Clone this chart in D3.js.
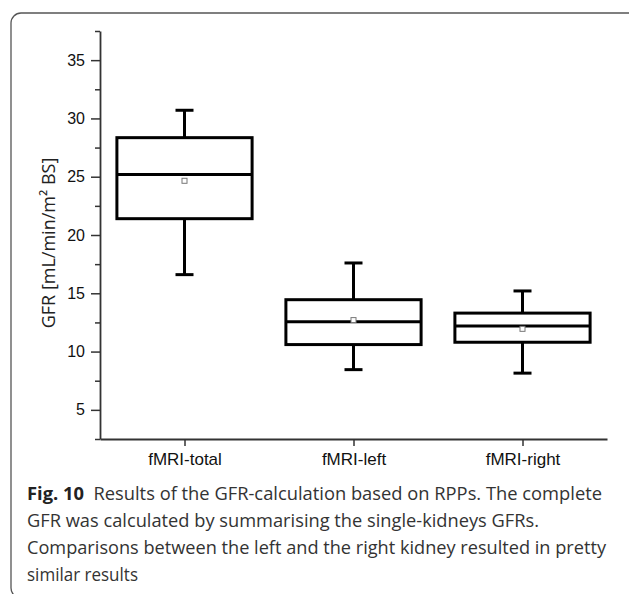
<!DOCTYPE html>
<html>
<head>
<meta charset="utf-8">
<script src="https://cdn.jsdelivr.net/npm/d3@7"></script>
<style>
  body { margin: 0; background: #fff; }
  svg { display: block; }
</style>
</head>
<body>
<div id="chart"></div>
<script>
// box plot values
var categories = ["fMRI-total", "fMRI-left", "fMRI-right"];
var q1 = [21.4, 10.6, 10.8];
var median = [25.2, 12.55, 12.2];
var q3 = [28.35, 14.45, 13.3];
var whiskerLow = [16.6, 8.45, 8.15];
var whiskerHigh = [30.7, 17.6, 15.2];
var means = [24.65, 12.7, 11.95];

var majorTicks = [5, 10, 15, 20, 25, 30, 35];
var minorTicks = [2.5, 7.5, 12.5, 17.5, 22.5, 27.5, 32.5, 37.5];

var captionLines = [
  ["Fig. 10", "Results of the GFR-calculation based on RPPs. The complete"],
  ["", "GFR was calculated by summarising the single-kidneys GFRs."],
  ["", "Comparisons between the left and the right kidney resulted in pretty"],
  ["", "similar results"]
];
var captionWidths = [575, 512, 579, 111];

var svgWidth = 629, svgHeight = 594;
var margin = {top: 31, right: 22, bottom: 155, left: 100};
var chartWidth = svgWidth - margin.left - margin.right;
var chartHeight = svgHeight - margin.top - margin.bottom;

var svg = d3.select("#chart").append("svg")
    .attr("width", svgWidth)
    .attr("height", svgHeight);

// rounded frame round the figure
svg.append("rect")
    .attr("x", 11).attr("y", 13)
    .attr("width", 630).attr("height", 585)
    .attr("rx", 10).attr("ry", 10)
    .attr("fill", "none")
    .attr("stroke", "#555")
    .attr("stroke-width", 1.3);

var chartGroup = svg.append("g")
    .attr("transform", `translate(${margin.left}, ${margin.top})`);

var xScale = d3.scalePoint()
    .domain(categories)
    .range([0, chartWidth])
    .padding(0.5);

var yScale = d3.scaleLinear()
    .domain([2.5, 37.5])
    .range([chartHeight, 0]);

var boxWidth = xScale.step() * 0.8;
var capWidth = 18;

// minor ticks on y
chartGroup.append("g")
    .call(d3.axisLeft(yScale).tickValues(minorTicks).tickSize(5).tickFormat(""))
    .call(g => g.select(".domain").remove())
    .selectAll("line").attr("stroke", "#333").attr("stroke-width", 1.5);

// y axis
var yAxisG = chartGroup.append("g")
    .call(d3.axisLeft(yScale).tickValues(majorTicks).tickSize(9).tickSizeOuter(0).tickPadding(6));
yAxisG.select(".domain").attr("stroke", "#333").attr("stroke-width", 1.8);
yAxisG.selectAll("line").attr("stroke", "#333").attr("stroke-width", 1.5);
yAxisG.selectAll("text")
    .attr("font-family", "Liberation Sans, Arial, sans-serif")
    .attr("font-size", 16)
    .attr("fill", "#111");

// x axis
var xAxisG = chartGroup.append("g")
    .attr("transform", `translate(0, ${chartHeight})`)
    .call(d3.axisBottom(xScale).tickSize(7).tickSizeOuter(0).tickPadding(7));
xAxisG.select(".domain").attr("stroke", "#333").attr("stroke-width", 1.8);
xAxisG.selectAll("line").attr("stroke", "#333").attr("stroke-width", 1.5);
xAxisG.selectAll("text")
    .attr("font-family", "Liberation Sans, Arial, sans-serif")
    .attr("font-size", 17)
    .attr("fill", "#111");

// y title
svg.append("text")
    .attr("transform", "translate(55, 243) rotate(-90)")
    .attr("text-anchor", "middle")
    .attr("font-family", "Open Sans, sans-serif")
    .attr("font-size", 18)
    .attr("fill", "#222")
    .text("GFR [mL/min/m² BS]");

// boxes
var boxes = chartGroup.selectAll(".box")
    .data(categories)
    .enter()
    .append("g")
    .attr("class", "box");

// whiskers
boxes.append("line")
    .attr("x1", d => xScale(d)).attr("x2", d => xScale(d))
    .attr("y1", (d, i) => yScale(whiskerHigh[i]))
    .attr("y2", (d, i) => yScale(q3[i]))
    .attr("stroke", "#000").attr("stroke-width", 3);
boxes.append("line")
    .attr("x1", d => xScale(d)).attr("x2", d => xScale(d))
    .attr("y1", (d, i) => yScale(whiskerLow[i]))
    .attr("y2", (d, i) => yScale(q1[i]))
    .attr("stroke", "#000").attr("stroke-width", 3);

// caps
boxes.append("line")
    .attr("x1", d => xScale(d) - capWidth / 2).attr("x2", d => xScale(d) + capWidth / 2)
    .attr("y1", (d, i) => yScale(whiskerHigh[i]))
    .attr("y2", (d, i) => yScale(whiskerHigh[i]))
    .attr("stroke", "#000").attr("stroke-width", 3);
boxes.append("line")
    .attr("x1", d => xScale(d) - capWidth / 2).attr("x2", d => xScale(d) + capWidth / 2)
    .attr("y1", (d, i) => yScale(whiskerLow[i]))
    .attr("y2", (d, i) => yScale(whiskerLow[i]))
    .attr("stroke", "#000").attr("stroke-width", 3);

// the box itself
boxes.append("rect")
    .attr("x", d => xScale(d) - boxWidth / 2)
    .attr("y", (d, i) => yScale(q3[i]))
    .attr("width", boxWidth)
    .attr("height", (d, i) => yScale(q1[i]) - yScale(q3[i]))
    .attr("fill", "none")
    .attr("stroke", "#000").attr("stroke-width", 3);

// median
boxes.append("line")
    .attr("x1", d => xScale(d) - boxWidth / 2).attr("x2", d => xScale(d) + boxWidth / 2)
    .attr("y1", (d, i) => yScale(median[i]))
    .attr("y2", (d, i) => yScale(median[i]))
    .attr("stroke", "#000").attr("stroke-width", 3);

// mean marker
boxes.append("rect")
    .attr("x", d => xScale(d) - 2.5)
    .attr("y", (d, i) => yScale(means[i]) - 2.5)
    .attr("width", 5).attr("height", 5)
    .attr("fill", "#fff")
    .attr("stroke", "#777").attr("stroke-width", 1);

// caption
var caption = svg.append("g")
    .attr("font-family", "Open Sans, sans-serif")
    .attr("font-size", 18)
    .attr("fill", "#333");

captionLines.forEach(function(line, i) {
    var t = caption.append("text")
        .attr("x", 27)
        .attr("y", 500 + i * 27)
        .attr("textLength", captionWidths[i])
        .attr("lengthAdjust", "spacingAndGlyphs");
    if (line[0]) {
        t.append("tspan").attr("font-weight", "bold").attr("fill", "#222").text(line[0]);
        t.append("tspan").text("\u00a0\u00a0" + line[1]);
    } else {
        t.append("tspan").text(line[1]);
    }
});
</script>
</body>
</html>
